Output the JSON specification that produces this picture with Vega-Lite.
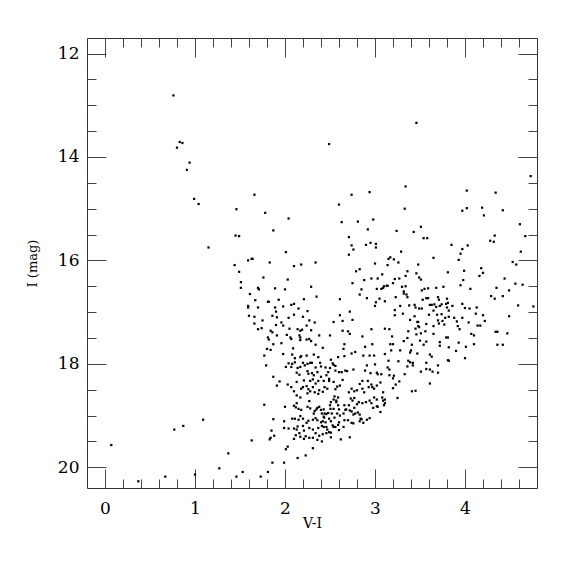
{
"$schema": "https://vega.github.io/schema/vega-lite/v6.json",
"width": 450, "height": 450,
"autosize": "none",
"padding": {"left": 87, "top": 38, "right": 38, "bottom": 87},
"background": "white",
"config": {"view": {"stroke": "#333", "strokeWidth": 1}, "font": "DejaVu Serif"},
"data": {"values": [
{"v":0.76,"i":12.81},{"v":0.83,"i":13.71},{"v":0.86,"i":13.73},{"v":0.80,"i":13.82},{"v":0.94,"i":14.11},{"v":0.91,"i":14.25},
{"v":2.49,"i":13.75},{"v":3.46,"i":13.34},{"v":3.34,"i":14.57},{"v":4.73,"i":14.37},
{"v":0.99,"i":14.81},{"v":1.04,"i":14.91},{"v":1.46,"i":15.01},{"v":1.45,"i":15.52},{"v":1.15,"i":15.75},{"v":1.44,"i":16.09},
{"v":0.07,"i":19.57},{"v":0.77,"i":19.27},{"v":0.87,"i":19.20},{"v":1.09,"i":19.08},{"v":0.67,"i":20.18},{"v":0.37,"i":20.27},{"v":1.0,"i":20.14},{"v":1.27,"i":20.02},{"v":1.37,"i":19.73},{"v":1.46,"i":20.18},
{"v":3.17,"i":17.62},{"v":3.20,"i":17.62},{"v":3.32,"i":17.56},{"v":3.50,"i":17.55},{"v":3.57,"i":17.57},{"v":3.72,"i":17.58},{"v":3.72,"i":17.65},{"v":3.54,"i":17.63},{"v":3.41,"i":17.63},{"v":3.18,"i":17.74},{"v":3.28,"i":17.74},{"v":3.40,"i":17.74},{"v":3.39,"i":17.78},{"v":3.47,"i":17.80},{"v":3.61,"i":17.82},{"v":3.63,"i":17.86},{"v":3.82,"i":17.68},{"v":3.93,"i":17.59},{"v":3.90,"i":17.75},{"v":4.01,"i":17.67},{"v":4.10,"i":17.62},{"v":4.00,"i":17.89},{"v":3.81,"i":17.93},{"v":3.82,"i":17.94},{"v":4.36,"i":17.63},{"v":4.42,"i":17.63},{"v":3.15,"i":17.94},{"v":3.26,"i":17.95},{"v":3.37,"i":17.94},{"v":3.39,"i":17.97},{"v":3.42,"i":17.98},{"v":3.36,"i":18.05},{"v":3.42,"i":18.03},{"v":3.57,"i":17.98},{"v":3.70,"i":18.03},{"v":3.14,"i":18.07},{"v":3.16,"i":18.11},{"v":3.57,"i":18.10},{"v":3.61,"i":18.11},{"v":3.64,"i":18.15},{"v":3.51,"i":18.15},{"v":3.70,"i":18.17},{"v":3.33,"i":18.20},{"v":3.16,"i":18.22},{"v":3.21,"i":18.23},{"v":3.20,"i":18.28},{"v":3.27,"i":18.34},{"v":3.23,"i":18.40},{"v":3.61,"i":18.38},{"v":3.20,"i":18.47},{"v":3.41,"i":18.53},{"v":3.45,"i":18.52},{"v":3.25,"i":18.66},
{"v":1.66,"i":14.73},{"v":2.74,"i":14.73},{"v":2.94,"i":14.68},{"v":2.60,"i":14.92},{"v":1.78,"i":15.08},{"v":2.04,"i":15.19},{"v":2.63,"i":15.26},{"v":2.81,"i":15.25},{"v":2.98,"i":15.21},{"v":1.87,"i":15.42},{"v":2.92,"i":15.40},{"v":1.49,"i":15.53},{"v":2.71,"i":15.55},{"v":2.74,"i":15.71},{"v":2.76,"i":15.79},{"v":2.90,"i":15.70},{"v":2.95,"i":15.66},{"v":3.01,"i":15.68},{"v":3.01,"i":15.75},{"v":2.01,"i":15.84},{"v":2.71,"i":15.89},{"v":1.59,"i":16.00},{"v":1.63,"i":15.97},{"v":1.64,"i":15.97},{"v":1.83,"i":16.04},{"v":2.34,"i":16.04},{"v":2.10,"i":16.11},{"v":2.18,"i":16.08},{"v":3.00,"i":16.06},{"v":1.49,"i":16.22},{"v":2.79,"i":16.21},{"v":2.83,"i":16.17},{"v":3.08,"i":16.27},{"v":1.76,"i":16.33},{"v":2.03,"i":16.37},{"v":2.88,"i":16.38},{"v":2.96,"i":16.35},{"v":3.03,"i":16.35},{"v":1.51,"i":16.42},{"v":2.75,"i":16.44},{"v":3.10,"i":16.50},{"v":2.29,"i":16.51},{"v":1.51,"i":16.53},{"v":1.70,"i":16.53},{"v":1.71,"i":16.56},{"v":1.89,"i":16.54},{"v":2.00,"i":16.56},{"v":2.85,"i":16.56},{"v":3.02,"i":16.55},{"v":3.07,"i":16.55},{"v":3.09,"i":16.53},{"v":3.13,"i":16.49},{"v":1.61,"i":16.65},{"v":2.35,"i":16.70},{"v":2.83,"i":16.66},{"v":1.67,"i":16.77},{"v":1.82,"i":16.80},{"v":1.93,"i":16.76},{"v":2.21,"i":16.75},{"v":2.61,"i":16.75},{"v":2.91,"i":16.73},{"v":3.05,"i":16.74},{"v":3.11,"i":16.79},{"v":3.00,"i":16.88},{"v":3.01,"i":16.81},{"v":1.59,"i":16.88},{"v":1.59,"i":16.91},{"v":1.70,"i":16.91},{"v":1.81,"i":16.80},{"v":1.89,"i":16.91},{"v":1.98,"i":16.89},{"v":2.07,"i":16.86},{"v":2.10,"i":16.84},{"v":2.15,"i":16.93},{"v":2.25,"i":16.98},{"v":1.90,"i":16.99},{"v":2.72,"i":16.99},{"v":1.60,"i":17.07},{"v":1.66,"i":17.09},{"v":1.75,"i":17.16},{"v":1.86,"i":17.07},{"v":1.91,"i":17.10},{"v":2.04,"i":17.11},{"v":2.10,"i":17.05},{"v":2.20,"i":17.09},{"v":2.61,"i":17.06},{"v":2.75,"i":17.15},{"v":1.66,"i":17.22},{"v":1.70,"i":17.33},{"v":1.74,"i":17.31},{"v":1.84,"i":17.36},{"v":1.86,"i":17.39},{"v":1.90,"i":17.25},{"v":1.96,"i":17.20},{"v":1.98,"i":17.26},{"v":2.05,"i":17.32},{"v":2.14,"i":17.33},{"v":2.17,"i":17.36},{"v":2.19,"i":17.34},{"v":2.24,"i":17.26},{"v":2.29,"i":17.35},{"v":2.33,"i":17.20},{"v":2.27,"i":17.16},{"v":1.81,"i":17.49},{"v":1.91,"i":17.45},{"v":2.02,"i":17.44},{"v":2.06,"i":17.49},{"v":2.16,"i":17.45},{"v":2.17,"i":17.49},{"v":2.38,"i":17.45},{"v":2.50,"i":17.45},{"v":2.54,"i":17.19},{"v":2.64,"i":17.17},{"v":2.64,"i":17.36},{"v":2.72,"i":17.42},{"v":2.70,"i":17.37},{"v":2.86,"i":17.47},{"v":2.96,"i":17.33},{"v":3.11,"i":17.32},
{"v":4.02,"i":14.65},{"v":4.34,"i":14.69},{"v":3.33,"i":15.00},{"v":3.97,"i":15.04},{"v":4.02,"i":14.99},{"v":4.19,"i":14.98},{"v":4.21,"i":15.13},{"v":4.42,"i":15.03},{"v":4.61,"i":15.30},{"v":3.24,"i":15.43},{"v":3.43,"i":15.45},{"v":3.51,"i":15.35},{"v":3.54,"i":15.57},{"v":3.58,"i":15.57},{"v":4.33,"i":15.52},{"v":4.28,"i":15.62},{"v":4.32,"i":15.64},{"v":4.67,"i":15.53},{"v":3.85,"i":15.70},{"v":3.97,"i":15.78},{"v":4.03,"i":15.71},{"v":3.95,"i":15.87},{"v":3.93,"i":15.99},{"v":3.29,"i":15.83},{"v":3.65,"i":15.95},{"v":4.62,"i":15.83},{"v":3.15,"i":15.97},{"v":3.17,"i":15.94},{"v":3.21,"i":15.98},{"v":3.26,"i":16.04},{"v":3.14,"i":16.09},{"v":3.48,"i":16.08},{"v":4.53,"i":16.03},{"v":4.57,"i":16.08},{"v":4.18,"i":16.15},{"v":3.36,"i":16.21},{"v":3.81,"i":16.23},{"v":3.99,"i":16.20},{"v":4.20,"i":16.24},{"v":4.16,"i":16.30},{"v":3.34,"i":16.30},{"v":3.46,"i":16.25},{"v":3.49,"i":16.33},{"v":3.51,"i":16.37},{"v":3.22,"i":16.36},{"v":3.27,"i":16.35},{"v":3.98,"i":16.38},{"v":4.44,"i":16.35},{"v":3.20,"i":16.44},{"v":3.14,"i":16.49},{"v":3.30,"i":16.51},{"v":3.34,"i":16.50},{"v":3.55,"i":16.55},{"v":3.52,"i":16.58},{"v":3.59,"i":16.54},{"v":3.68,"i":16.53},{"v":3.76,"i":16.51},{"v":3.95,"i":16.48},{"v":4.06,"i":16.55},{"v":4.35,"i":16.53},{"v":4.49,"i":16.58},{"v":4.56,"i":16.45},{"v":4.64,"i":16.47},{"v":3.23,"i":16.71},{"v":3.32,"i":16.60},{"v":3.32,"i":16.64},{"v":3.35,"i":16.66},{"v":3.36,"i":16.71},{"v":3.53,"i":16.76},{"v":3.57,"i":16.73},{"v":3.59,"i":16.73},{"v":3.70,"i":16.71},{"v":3.71,"i":16.76},{"v":3.80,"i":16.74},{"v":3.81,"i":16.82},{"v":3.97,"i":16.84},{"v":4.29,"i":16.69},{"v":4.33,"i":16.74},{"v":4.42,"i":16.69},{"v":3.28,"i":16.88},{"v":3.38,"i":16.87},{"v":3.44,"i":16.86},{"v":3.45,"i":16.91},{"v":3.49,"i":16.93},{"v":3.22,"i":16.96},{"v":3.22,"i":17.06},{"v":3.31,"i":17.03},{"v":3.39,"i":17.15},{"v":3.48,"i":17.19},{"v":3.44,"i":17.08},{"v":3.49,"i":17.29},{"v":3.52,"i":16.93},{"v":3.61,"i":16.86},{"v":3.63,"i":16.86},{"v":3.66,"i":16.85},{"v":3.65,"i":16.97},{"v":3.68,"i":16.90},{"v":3.72,"i":16.88},{"v":3.74,"i":16.85},{"v":3.79,"i":16.84},{"v":3.80,"i":16.91},{"v":3.82,"i":16.97},{"v":3.86,"i":16.88},{"v":4.00,"i":16.92},{"v":4.05,"i":16.93},{"v":4.13,"i":16.91},{"v":3.60,"i":17.05},{"v":3.69,"i":17.05},{"v":3.74,"i":17.04},{"v":3.78,"i":17.11},{"v":3.82,"i":17.09},{"v":3.88,"i":17.11},{"v":3.97,"i":17.11},{"v":4.12,"i":17.03},{"v":4.20,"i":17.06},{"v":4.49,"i":17.08},{"v":4.22,"i":17.17},{"v":4.04,"i":17.20},{"v":3.91,"i":17.18},{"v":3.92,"i":17.27},{"v":3.94,"i":17.33},{"v":3.70,"i":17.16},{"v":3.71,"i":17.22},{"v":3.75,"i":17.17},{"v":3.77,"i":17.24},{"v":3.65,"i":17.27},{"v":3.57,"i":17.23},{"v":3.47,"i":17.19},{"v":3.48,"i":17.27},{"v":3.45,"i":17.32},{"v":3.56,"i":17.37},{"v":3.46,"i":17.43},{"v":3.51,"i":17.41},{"v":3.65,"i":17.42},{"v":3.37,"i":17.37},{"v":3.16,"i":17.33},{"v":3.19,"i":17.47},{"v":3.36,"i":17.50},{"v":3.79,"i":17.49},{"v":3.81,"i":17.49},{"v":4.07,"i":17.42},{"v":4.10,"i":17.45},{"v":4.14,"i":17.26},{"v":4.17,"i":17.26},{"v":4.34,"i":17.38},{"v":4.36,"i":17.38},{"v":4.47,"i":17.41},{"v":4.76,"i":16.89},{"v":4.59,"i":16.87},
{"v":1.82,"i":17.53},{"v":1.96,"i":17.60},{"v":2.07,"i":17.52},{"v":2.09,"i":17.70},{"v":2.17,"i":17.54},{"v":2.24,"i":17.53},{"v":2.29,"i":17.56},{"v":2.34,"i":17.63},{"v":2.27,"i":17.52},{"v":2.42,"i":17.69},{"v":2.66,"i":17.62},{"v":2.65,"i":17.71},{"v":2.78,"i":17.77},{"v":2.74,"i":17.80},{"v":2.89,"i":17.67},{"v":2.97,"i":17.62},{"v":1.87,"i":17.62},{"v":1.84,"i":17.73},{"v":1.80,"i":17.71},{"v":1.77,"i":17.84},{"v":1.98,"i":17.81},{"v":2.08,"i":17.82},{"v":2.11,"i":17.89},{"v":2.17,"i":17.87},{"v":2.18,"i":17.85},{"v":2.24,"i":17.84},{"v":2.32,"i":17.82},{"v":2.37,"i":17.87},{"v":2.39,"i":17.98},{"v":2.30,"i":17.98},{"v":2.20,"i":17.98},{"v":2.11,"i":17.97},{"v":2.08,"i":18.00},{"v":2.07,"i":18.06},{"v":2.04,"i":17.99},{"v":2.01,"i":18.06},{"v":2.14,"i":18.08},{"v":2.17,"i":18.06},{"v":2.22,"i":18.03},{"v":2.25,"i":18.00},{"v":2.28,"i":17.98},{"v":2.34,"i":18.07},{"v":2.36,"i":18.16},{"v":2.40,"i":18.05},{"v":2.45,"i":18.07},{"v":2.50,"i":18.08},{"v":2.51,"i":17.92},{"v":2.53,"i":17.99},{"v":2.54,"i":18.02},{"v":2.56,"i":18.04},{"v":2.56,"i":18.13},{"v":2.60,"i":18.16},{"v":2.63,"i":18.16},{"v":2.67,"i":18.13},{"v":2.69,"i":18.14},{"v":2.76,"i":18.11},{"v":2.64,"i":18.31},{"v":2.59,"i":17.87},{"v":2.66,"i":17.85},{"v":2.87,"i":17.84},{"v":2.94,"i":17.84},{"v":2.99,"i":17.84},{"v":3.11,"i":17.81},{"v":2.91,"i":18.03},{"v":3.00,"i":18.01},{"v":2.89,"i":18.13},{"v":2.95,"i":18.18},{"v":3.02,"i":18.17},{"v":3.07,"i":18.20},{"v":1.79,"i":18.03},{"v":1.87,"i":18.25},{"v":1.94,"i":18.34},{"v":1.91,"i":18.42},{"v":2.03,"i":18.40},{"v":2.13,"i":18.17},{"v":2.16,"i":18.21},{"v":2.25,"i":18.14},{"v":2.26,"i":18.19},{"v":2.30,"i":18.18},{"v":2.32,"i":18.22},{"v":2.31,"i":18.30},{"v":2.28,"i":18.33},{"v":2.21,"i":18.32},{"v":2.13,"i":18.35},{"v":2.20,"i":18.45},{"v":2.24,"i":18.43},{"v":2.26,"i":18.49},{"v":2.31,"i":18.45},{"v":2.34,"i":18.38},{"v":2.37,"i":18.33},{"v":2.40,"i":18.25},{"v":2.43,"i":18.33},{"v":2.46,"i":18.22},{"v":2.48,"i":18.16},{"v":2.49,"i":18.29},{"v":2.49,"i":18.33},{"v":2.54,"i":18.35},{"v":2.58,"i":18.44},{"v":2.61,"i":18.42},{"v":2.56,"i":18.49},{"v":2.47,"i":18.48},{"v":2.44,"i":18.45},{"v":2.42,"i":18.54},{"v":2.37,"i":18.58},{"v":2.38,"i":18.51},{"v":2.33,"i":18.55},{"v":2.28,"i":18.53},{"v":2.25,"i":18.57},{"v":2.18,"i":18.48},{"v":2.10,"i":18.53},{"v":2.07,"i":18.45},{"v":2.13,"i":18.61},{"v":2.17,"i":18.65},{"v":2.13,"i":18.76},{"v":2.10,"i":18.81},{"v":2.12,"i":18.84},{"v":2.15,"i":18.87},{"v":2.18,"i":18.89},{"v":2.25,"i":18.83},{"v":2.27,"i":18.72},{"v":2.28,"i":18.86},{"v":2.32,"i":18.96},{"v":2.33,"i":18.91},{"v":2.35,"i":18.88},{"v":2.36,"i":18.85},{"v":2.38,"i":18.83},{"v":2.40,"i":18.89},{"v":2.41,"i":18.96},{"v":2.43,"i":18.88},{"v":2.43,"i":19.02},{"v":2.435,"i":19.04},{"v":2.44,"i":18.96},{"v":2.46,"i":18.97},{"v":2.48,"i":18.95},{"v":2.50,"i":18.80},{"v":2.505,"i":18.87},{"v":2.51,"i":18.74},{"v":2.54,"i":18.69},{"v":2.55,"i":18.63},{"v":2.57,"i":18.71},{"v":2.59,"i":18.65},{"v":2.57,"i":18.74},{"v":2.59,"i":18.80},{"v":2.60,"i":18.88},{"v":2.54,"i":18.87},{"v":2.52,"i":18.96},{"v":2.55,"i":19.04},{"v":2.58,"i":18.96},{"v":2.61,"i":19.00},{"v":2.65,"i":18.96},{"v":2.67,"i":18.89},{"v":2.68,"i":18.88},{"v":2.66,"i":18.80},{"v":2.71,"i":18.80},{"v":2.75,"i":18.71},{"v":2.73,"i":18.67},{"v":2.77,"i":18.66},{"v":2.71,"i":18.55},{"v":2.74,"i":18.48},{"v":2.77,"i":18.53},{"v":2.80,"i":18.51},{"v":2.86,"i":18.48},{"v":2.88,"i":18.55},{"v":2.83,"i":18.39},{"v":2.86,"i":18.33},{"v":2.92,"i":18.33},{"v":2.93,"i":18.45},{"v":2.96,"i":18.40},{"v":2.97,"i":18.45},{"v":2.99,"i":18.48},{"v":3.02,"i":18.42},{"v":3.03,"i":18.20},{"v":3.06,"i":18.36},{"v":3.09,"i":18.55},{"v":3.08,"i":18.65},{"v":3.09,"i":18.71},{"v":3.11,"i":18.69},{"v":3.10,"i":18.80},{"v":3.11,"i":18.76},{"v":3.02,"i":18.69},{"v":2.99,"i":18.65},{"v":2.96,"i":18.76},{"v":2.98,"i":18.85},{"v":3.02,"i":18.82},{"v":3.03,"i":18.83},{"v":3.06,"i":18.93},{"v":2.94,"i":18.71},{"v":2.90,"i":18.74},{"v":2.86,"i":18.76},{"v":2.82,"i":18.74},{"v":2.80,"i":18.78},{"v":2.77,"i":18.85},{"v":2.72,"i":18.90},{"v":2.74,"i":18.92},{"v":2.76,"i":18.98},{"v":2.78,"i":18.96},{"v":2.81,"i":18.94},{"v":2.83,"i":18.98},{"v":2.84,"i":19.06},{"v":2.87,"i":19.14},{"v":2.85,"i":19.07},{"v":2.91,"i":19.08},{"v":2.94,"i":19.05},{"v":2.83,"i":19.11},{"v":2.76,"i":19.15},{"v":2.74,"i":19.14},{"v":2.70,"i":19.09},{"v":2.66,"i":19.09},{"v":2.65,"i":19.22},{"v":2.60,"i":19.13},{"v":2.59,"i":19.18},{"v":2.56,"i":19.22},{"v":2.53,"i":19.19},{"v":2.51,"i":19.11},{"v":2.49,"i":19.06},{"v":2.45,"i":19.13},{"v":2.42,"i":19.11},{"v":2.40,"i":19.13},{"v":2.36,"i":19.09},{"v":2.34,"i":19.05},{"v":2.31,"i":19.08},{"v":2.26,"i":19.10},{"v":2.24,"i":19.14},{"v":2.20,"i":19.20},{"v":2.20,"i":19.06},{"v":2.17,"i":19.01},{"v":2.15,"i":19.08},{"v":2.11,"i":19.06},{"v":2.08,"i":19.06},{"v":2.14,"i":19.21},{"v":2.10,"i":19.25},{"v":2.13,"i":19.27},{"v":2.21,"i":19.29},{"v":2.27,"i":19.24},{"v":2.31,"i":19.27},{"v":2.34,"i":19.34},{"v":2.37,"i":19.24},{"v":2.41,"i":19.20},{"v":2.43,"i":19.22},{"v":2.46,"i":19.22},{"v":2.47,"i":19.27},{"v":2.49,"i":19.32},{"v":2.51,"i":19.33},{"v":2.46,"i":19.34},{"v":2.42,"i":19.36},{"v":2.38,"i":19.39},{"v":2.36,"i":19.47},{"v":2.41,"i":19.50},{"v":2.31,"i":19.43},{"v":2.27,"i":19.43},{"v":2.23,"i":19.40},{"v":2.17,"i":19.41},{"v":2.12,"i":19.38},{"v":2.10,"i":19.45},{"v":2.16,"i":19.34},{"v":2.51,"i":19.42},{"v":2.54,"i":19.22},{"v":2.60,"i":19.28},{"v":2.62,"i":19.46},{"v":2.72,"i":19.42},{"v":2.21,"i":19.45},{"v":2.00,"i":18.83},{"v":1.99,"i":19.11},{"v":2.04,"i":19.25},{"v":1.99,"i":19.24},{"v":1.87,"i":19.07},{"v":1.85,"i":19.29},{"v":1.84,"i":19.43},{"v":1.83,"i":19.46},{"v":1.88,"i":19.39},{"v":1.77,"i":18.79},{"v":1.63,"i":19.48},{"v":2.03,"i":19.60},{"v":2.01,"i":19.65},{"v":2.31,"i":19.63},{"v":2.14,"i":19.82},{"v":2.23,"i":19.77},{"v":1.86,"i":19.91},{"v":1.99,"i":19.91},{"v":1.81,"i":20.09},{"v":1.73,"i":20.18},{"v":1.53,"i":20.09}
]},
"resolve": {"axis": {"x": "independent", "y": "independent"}},
"layer": [
{
"mark": {"type": "point", "shape": "square", "filled": true, "size": 5, "color": "black", "opacity": 1},
"encoding": {
"x": {"field": "v", "type": "quantitative", "scale": {"domain": [-0.2, 4.8], "nice": false, "zero": false},
"axis": {"orient": "bottom", "title": "V-I", "titleFont": "DejaVu Serif", "titleFontSize": 14, "titleFontWeight": "normal", "titleColor": "black", "titlePadding": -10,
"values": [0,0.2,0.4,0.6,0.8,1,1.2,1.4,1.6,1.8,2,2.2,2.4,2.6,2.8,3,3.2,3.4,3.6,3.8,4,4.2,4.4,4.6],
"labelExpr": "abs(datum.value - round(datum.value)) < 0.01 ? format(datum.value, 'd') : ''",
"labelFont": "DejaVu Serif", "labelFontSize": 17, "labelColor": "black", "labelPadding": 31, "labelFlush": false, "labelOverlap": false,
"domain": false, "grid": false, "tickColor": "#444", "tickWidth": 1,
"tickSize": {"condition": {"test": "abs(datum.value - round(datum.value)) < 0.01", "value": -19}, "value": -9}}},
"y": {"field": "i", "type": "quantitative", "scale": {"domain": [11.7, 20.4], "reverse": true, "nice": false, "zero": false},
"axis": {"orient": "left", "title": "I (mag)", "titleFont": "DejaVu Serif", "titleFontSize": 13, "titleFontWeight": "normal", "titleColor": "black", "titlePadding": 18,
"values": [12,12.5,13,13.5,14,14.5,15,15.5,16,16.5,17,17.5,18,18.5,19,19.5,20],
"labelExpr": "abs(datum.value/2 - round(datum.value/2)) < 0.01 ? format(datum.value, 'd') : ''",
"labelFont": "DejaVu Serif", "labelFontSize": 17, "labelColor": "black", "labelPadding": 27, "labelFlush": false, "labelOverlap": false,
"domain": false, "grid": false, "tickColor": "#444", "tickWidth": 1,
"tickSize": {"condition": {"test": "abs(datum.value/2 - round(datum.value/2)) < 0.01", "value": -19}, "value": -9}}}
}
},
{
"mark": {"type": "point", "shape": "square", "filled": true, "size": 5, "color": "black", "opacity": 0},
"encoding": {
"x": {"field": "v", "type": "quantitative", "scale": {"domain": [-0.2, 4.8], "nice": false, "zero": false},
"axis": {"orient": "top", "title": null, "labels": false,
"values": [0,0.2,0.4,0.6,0.8,1,1.2,1.4,1.6,1.8,2,2.2,2.4,2.6,2.8,3,3.2,3.4,3.6,3.8,4,4.2,4.4,4.6],
"domain": false, "grid": false, "tickColor": "#444", "tickWidth": 1,
"tickSize": {"condition": {"test": "abs(datum.value - round(datum.value)) < 0.01", "value": -19}, "value": -9}}},
"y": {"field": "i", "type": "quantitative", "scale": {"domain": [11.7, 20.4], "reverse": true, "nice": false, "zero": false},
"axis": {"orient": "right", "title": null, "labels": false,
"values": [12,12.5,13,13.5,14,14.5,15,15.5,16,16.5,17,17.5,18,18.5,19,19.5,20],
"domain": false, "grid": false, "tickColor": "#444", "tickWidth": 1,
"tickSize": {"condition": {"test": "abs(datum.value/2 - round(datum.value/2)) < 0.01", "value": -19}, "value": -9}}}
}
}
]
}
